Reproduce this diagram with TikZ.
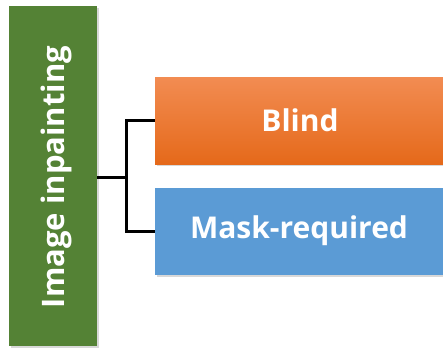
\documentclass[tikz,border=0pt]{standalone}
\usepackage{fontspec}
\setmainfont{Open Sans}
\usetikzlibrary{shadows}
\definecolor{grn}{HTML}{548235}
\definecolor{orgT}{HTML}{F28C52}
\definecolor{orgB}{HTML}{E5691A}
\definecolor{blu}{HTML}{5B9BD5}
\begin{document}
\begin{tikzpicture}[x=1pt,y=-1pt,
  box/.style={inner sep=0pt, text=white, font=\bfseries,
    drop shadow={shadow xshift=1.5pt, shadow yshift=-1.5pt, opacity=0.25, fill=black!60}},
  lbl/.style={text=white, font=\bfseries\fontsize{30}{30}\selectfont},
  conn/.style={draw=black, line width=3pt}]
\useasboundingbox (0,0) rectangle (443,348);
\fill[white] (0,0) rectangle (443,348);
\node[box, fill=grn, minimum width=88pt, minimum height=340pt, anchor=north west] (root) at (9,6) {};
\node[lbl, rotate=90, font=\bfseries\fontsize{31}{31}\selectfont] (roottxt) at (56,177) {Image inpainting};
\node[box, top color=orgT, bottom color=orgB, minimum width=300pt, minimum height=87pt, anchor=north west] (blind) at (155,77) {};
\node[lbl] (blindtxt) at (300,120) {Blind};
\node[box, fill=blu, minimum width=300pt, minimum height=87pt, anchor=north west] (mask) at (155,188) {};
\node[lbl] (masktxt) at (299,231) {Mask-required};
\coordinate (j) at (126,177);
\draw[conn] (root.east |- j) -- (j);
\draw[conn] (blind.west) -| (j) |- (mask.west);
\end{tikzpicture}
\end{document}
